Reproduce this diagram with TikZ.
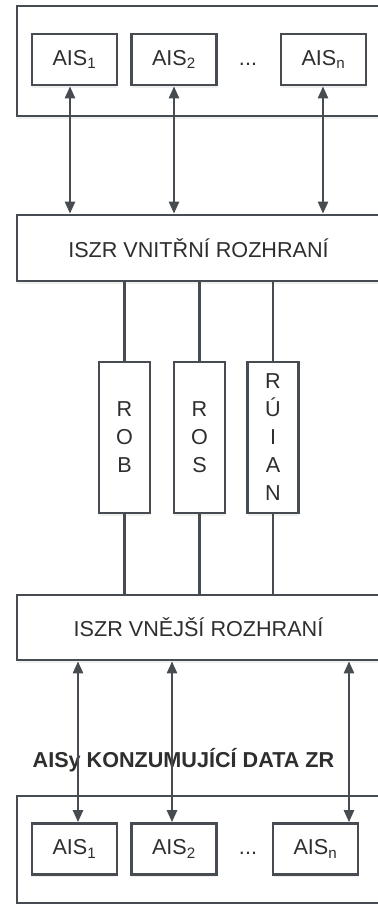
\documentclass[tikz,border=0pt]{standalone}
\usepackage{fontspec}
\setmainfont{Liberation Sans}
\usetikzlibrary{arrows.meta,shadows}

\definecolor{framegray}{HTML}{474C52}
\definecolor{textgray}{HTML}{2E2E2E}

\tikzset{
    box/.style={draw=framegray, line width=2pt, fill=white, text=textgray,
        font=\fontsize{16.2}{21}\selectfont, inner sep=0pt,
        drop shadow={opacity=0.12, shadow xshift=0pt, shadow yshift=-2pt}},
    frame/.style={box, minimum width=272.25pt},
    aisbox/.style={box, minimum width=63.75pt, minimum height=38.25pt},
    regbox/.style={box, minimum width=38.25pt, minimum height=113.25pt, align=center},
    link/.style={draw=framegray, line width=1.8pt,
        {Triangle[length=9pt,width=7.5pt]}-{Triangle[length=9pt,width=7.5pt]}},
    wire/.style={draw=framegray, line width=1.8pt},
}

\begin{document}
\begin{tikzpicture}[x=0.75pt, y=-0.75pt]
    \useasboundingbox (0,0) rectangle (378,904);
    \clip (0,0) rectangle (378,904);

    % Horni AISy
    \node[frame, minimum height=82.5pt] (topframe) at (198.5,61) {};
    \node[aisbox] (ta1) at (74.5,59.5) {AIS\textsubscript{1}};
    \node[aisbox] (ta2) at (174,59.5) {AIS\textsubscript{2}};
    \node[text=textgray, font=\fontsize{16.2}{18}\selectfont] (tdots) at (248,64) {...};
    \node[aisbox] (tan) at (323.5,59.5) {AIS\textsubscript{n}};

    % Vnitrni rozhrani
    \node[frame, minimum height=49.5pt] (inner) at (198.5,248) {ISZR VNITŘNÍ ROZHRANÍ};

    % Registry
    \node[regbox] (rob) at (124.5,437.5) {R\\O\\B};
    \node[regbox] (ros) at (199.5,437.5) {R\\O\\S};
    \node[regbox] (ruian) at (273,437.5) {R\\Ú\\I\\A\\N};

    % Vnejsi rozhrani
    \node[frame, minimum height=48.75pt] (outer) at (198.5,627.5) {ISZR VNĚJŠÍ ROZHRANÍ};

    % Konzumujici AISy
    \node[text=textgray, font=\fontsize{16.2}{18}\selectfont\bfseries] (title) at (183.5,760) {AISy KONZUMUJÍCÍ DATA ZR};
    \node[frame, minimum height=80.25pt] (botframe) at (198.5,849.5) {};
    \node[aisbox] (ba1) at (74.5,849) {AIS\textsubscript{1}};
    \node[aisbox] (ba2) at (174,849) {AIS\textsubscript{2}};
    \node[text=textgray, font=\fontsize{16.2}{18}\selectfont] (bdots) at (248,853) {...};
    \node[aisbox] (ban) at (315.5,849) {AIS\textsubscript{n}};

    % Spojnice
    \coordinate (t1) at (70,0);
    \coordinate (t2) at (174,0);
    \coordinate (tn) at (323,0);
    \coordinate (b1) at (78,0);
    \coordinate (b2) at (172,0);
    \coordinate (bn) at (349,0);

    \draw[link] (ta1.south -| t1) -- (inner.north -| t1);
    \draw[link] (ta2.south -| t2) -- (inner.north -| t2);
    \draw[link] (tan.south -| tn) -- (inner.north -| tn);

    \foreach \reg in {rob, ros, ruian} {
        \draw[wire] (inner.south -| \reg.north) -- (\reg.north);
        \draw[wire] (\reg.south) -- (outer.north -| \reg.south);
    }

    \draw[link] (outer.south -| b1) -- (ba1.north -| b1);
    \draw[link] (outer.south -| b2) -- (ba2.north -| b2);
    \draw[link] (outer.south -| bn) -- (ban.north -| bn);
\end{tikzpicture}
\end{document}
